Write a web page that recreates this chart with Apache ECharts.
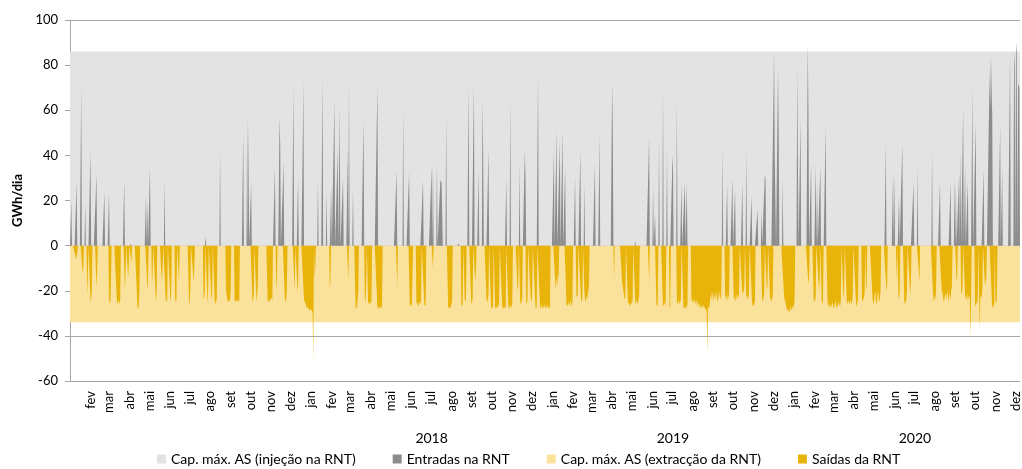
<!DOCTYPE html>
<html>
<head>
<meta charset="utf-8">
<script src="https://cdn.jsdelivr.net/npm/echarts@6/dist/echarts.min.js"></script>
<style>
  html, body { margin: 0; padding: 0; background: #fff; }
  #chart { width: 1022px; height: 469px; }
</style>
</head>
<body>
<div id="chart"></div>
<script>
const meses = ['jan', 'fev', 'mar', 'abr', 'mai', 'jun', 'jul', 'ago', 'set', 'out', 'nov', 'dez']
const anos = ['2018', '2019', '2020']
const inicio = '2017-01-01'
const numDias = 1438 // até 2020-12-08

const capInjecao = 86
const capExtraccao = -34

// [dia, GWh/dia]  (dia 0 = 2017-01-01)
const entradas = [
  [2, 20], [10, 28], [17, 71], [23, 19], [31, 42], [39, 23], [40, 32], [52, 24], [59, 24], [82, 29],
  [92, 1], [115, 23], [117, 20], [121, 35], [143, 29], [205, 4], [227, 42],
  [262, 50], [268, 58], [270, 55], [274, 28], [310, 34], [317, 57], [318, 44], [323, 37], [338, 71],
  [345, 30], [352, 44], [353, 73], [375, 30], [382, 74], [388, 24], [395, 26], [400, 64], [405, 43],
  [408, 62], [413, 30], [420, 43], [422, 73], [428, 26], [444, 56], [465, 71],
  [494, 33], [504, 62], [513, 33], [534, 29], [547, 35], [549, 37], [555, 37], [560, 28], [561, 29],
  [562, 28], [563, 28], [569, 59], [588, 1], [603, 71], [611, 71], [618, 34], [624, 65], [625, 40],
  [633, 43], [660, 30], [666, 65], [680, 36], [688, 42], [689, 30], [708, 76],
  [732, 42], [736, 51], [741, 46], [745, 51], [749, 35], [764, 31], [772, 42], [778, 28], [794, 36],
  [801, 49], [820, 72], [821, 52], [855, 2], [876, 48], [882, 27], [885, 14], [891, 46], [897, 69],
  [903, 43], [911, 35], [912, 40], [918, 64], [925, 28], [930, 28], [933, 28],
  [987, 43], [994, 28], [1002, 30], [1006, 25], [1017, 28], [1023, 42], [1031, 22], [1040, 16],
  [1046, 16], [1051, 31], [1052, 30], [1065, 86], [1066, 40], [1067, 40], [1071, 79], [1072, 50],
  [1078, 30], [1100, 79], [1101, 40], [1105, 56], [1116, 90], [1117, 60], [1121, 36], [1128, 36],
  [1130, 28], [1135, 35], [1143, 53],
  [1234, 45], [1245, 32], [1247, 32], [1254, 22], [1259, 45], [1276, 28], [1282, 35], [1304, 42],
  [1316, 28], [1332, 28], [1338, 31], [1340, 28], [1345, 32], [1347, 42], [1351, 61], [1354, 36],
  [1358, 29], [1365, 70], [1370, 54], [1382, 34], [1391, 77], [1392, 60], [1393, 85], [1394, 70],
  [1395, 58], [1407, 53], [1410, 34], [1422, 85], [1428, 86], [1429, 80], [1431, 90], [1432, 86],
  [1434, 70], [1435, 72], [1436, 70], [1437, 70]
]

// [primeiro dia, valores diários seguidos]
const saidas = [
  [8, [-4, -6, -5, -3]], [19, [-12, -10]], [26, [-22, -14]], [31, [-25, -24, -20]], [40, [-19, -12]],
  [59, [-26, -24, -26, -15]], [71, [-25, -26, -24, -25, -26, -24]], [83, [-20, -12]], [88, [-14, -8]],
  [93, [-8]], [102, [-27, -28, -27, -20]], [117, [-20, -15]], [124, [-17, -12]], [130, [-25, -22]],
  [139, [-16, -10]], [145, [-25, -24, -25]], [152, [-25, -22]], [159, [-25, -24, -25]], [165, [-16]],
  [180, [-26, -25, -20]], [187, [-16, -10]], [202, [-24, -23, -20]], [208, [-26, -20]], [214, [-24, -22]],
  [219, [-25, -26, -24, -25]],
  [236, [-20, -22, -24, -25, -25, -24, -25, -20]], [249, [-25, -24, -25, -25, -24, -25, -24, -25]],
  [276, [-25, -24, -22]], [282, [-25, -22, -18]], [299, [-25, -25, -24, -25, -24, -24, -23, -25]],
  [312, [-20, -15]], [325, [-24, -25, -24, -20]], [340, [-20]], [344, [-20, -18]],
  [354, [-24, -25, -25, -26, -28, -28, -27, -28, -28, -29, -28, -28, -29, -30, -51]], [370, [-14, -10]],
  [393, [-20, -15]], [421, [-16]], [432, [-28, -27, -28, -28, -20]], [446, [-24, -25, -18]],
  [451, [-26, -25, -26, -25, -26, -24]], [465, [-28, -28, -27, -28, -28, -27, -28, -26]],
  [495, [-19]], [514, [-27, -27, -26, -27, -27]], [524, [-26, -25, -26, -27, -26, -25, -26, -24]],
  [536, [-26, -27, -26]], [549, [-10]], [572, [-27, -28, -27, -28, -27, -27, -25]], [592, [-26, -27, -26]],
  [597, [-24, -25, -23]], [607, [-26, -25, -24]], [613, [-16, -12]], [630, [-24, -25, -24, -22]],
  [637, [-28, -27, -28, -26]], [643, [-27, -28, -27, -28, -27, -26, -27]], [654, [-28, -27, -28, -28, -27, -28]],
  [663, [-27, -28, -27, -26, -28, -27, -26]], [677, [-20, -18]], [681, [-25, -26, -25, -24]],
  [690, [-25, -26, -24]], [697, [-24, -25, -22]], [704, [-27, -28, -27]],
  [711, [-27, -28, -27, -26, -28, -27, -28, -26, -27, -28, -27, -26, -28, -27, -28, -27]],
  [734, [-16, -20, -14, -18, -12, -15]], [751, [-26, -27, -26, -25, -27, -26, -24, -26, -27, -25]],
  [766, [-22, -23, -22]], [773, [-24, -25, -23]], [778, [-20, -24, -25, -22, -24, -23, -20, -18]],
  [823, [-15]], [835, [-16, -18, -20, -22, -24, -23]], [844, [-26, -25, -26, -27, -26, -25, -26, -24]],
  [855, [-25, -26, -24, -25, -26, -24, -22]], [876, [-16]], [887, [-26, -27, -26]],
  [897, [-26, -27, -26, -25, -27]], [907, [-28, -27]], [918, [-25, -26, -25, -24, -26, -25, -24]],
  [928, [-28, -27, -28, -27, -28, -27, -26]],
  [940, [-24, -25, -24, -26, -23, -25, -26, -24, -25, -27, -26, -25, -27, -28, -26, -27, -28, -27, -26, -28,
    -27, -28, -29, -28, -48, -28, -27, -28]],
  [968, [-25, -22, -24, -20, -22, -25, -21, -23, -24, -20, -22, -24, -25, -22, -20, -23, -24, -22]],
  [991, [-24, -22, -23, -25, -21, -24, -20]], [1004, [-23, -24, -22, -25, -23, -21, -24, -22, -23]],
  [1017, [-22, -20, -21, -18]], [1023, [-24, -22, -23, -24, -21]], [1032, [-27, -26, -27, -25, -26]],
  [1047, [-24, -25, -23, -22]], [1054, [-20, -18]], [1059, [-24, -23, -25, -24, -22]],
  [1080, [-22, -24, -25, -26, -28, -29, -28, -29, -30, -28, -27, -29, -28, -27, -28, -26, -25]],
  [1117, [-17, -14]], [1125, [-25, -24, -25, -22]], [1133, [-20, -15]], [1137, [-25, -26, -24]],
  [1146, [-26, -27, -25, -27, -28, -26, -27, -25, -26, -28, -27, -26, -24, -27, -28, -26, -27, -25, -26, -27, -24]],
  [1170, [-24, -20]], [1175, [-25, -26, -24, -25, -26, -25, -24, -26, -25, -22]],
  [1189, [-26, -27, -25, -24]], [1198, [-24, -25, -23, -24, -20]],
  [1204, [-20, -18]], [1214, [-24, -25, -26, -22, -20, -25, -26, -24, -20, -22, -25, -24, -20]],
  [1235, [-20, -18]], [1251, [-16]], [1253, [-22, -24, -20]], [1262, [-25, -26, -25, -24, -20]],
  [1271, [-22, -16]], [1285, [-16]], [1306, [-24, -25, -22, -24, -20]],
  [1319, [-22, -20, -24, -25, -23, -21, -24, -22, -20, -23, -25, -21, -22, -24, -20, -18]],
  [1341, [-16, -14]], [1348, [-20, -22, -18]], [1354, [-22, -24, -22, -25, -21, -24, -22, -23, -41, -24]],
  [1369, [-26, -27, -25, -26, -24]], [1376, [-37, -24, -22, -23, -20]], [1384, [-18, -16, -14]],
  [1395, [-28, -27, -26, -27]], [1400, [-26, -25, -24]]
]

const dias = []
const t0 = new Date(inicio + 'T00:00:00Z').getTime()
for (let i = 0; i < numDias; i++) {
  dias.push(new Date(t0 + i * 86400000).toISOString().slice(0, 10))
}

const serieEntradas = dias.map(() => 0)
entradas.forEach(([i, v]) => { serieEntradas[i] = v })
const serieSaidas = dias.map(() => 0)
saidas.forEach(([i, vals]) => vals.forEach((v, k) => { serieSaidas[i + k] = v }))

const fonte = 'Lato, sans-serif'
const cinzaEixo = '#a6a6a6'

const chart = echarts.init(document.getElementById('chart'))

const areaSerie = (name, data, color) => ({
  name,
  type: 'line',
  data,
  symbol: 'none',
  silent: true,
  lineStyle: { width: 0 },
  itemStyle: { color },
  areaStyle: { color, opacity: 1 }
})

chart.setOption({
  animation: false,
  textStyle: { fontFamily: fonte },
  grid: { left: 70, right: 2, top: 20, bottom: 88 },
  legend: {
    top: 452,
    left: 157,
    padding: 0,
    icon: 'rect',
    itemWidth: 9,
    itemHeight: 9,
    itemGap: 37,
    textStyle: { fontSize: 14, color: '#000', fontFamily: fonte },
    data: ['Cap. máx. AS (injeção na RNT)', 'Entradas na RNT', 'Cap. máx. AS (extracção da RNT)', 'Saídas da RNT']
  },
  xAxis: [
    {
      type: 'category',
      data: dias,
      boundaryGap: false,
      axisLine: { onZero: false, lineStyle: { color: cinzaEixo } },
      axisTick: { show: false },
      axisLabel: {
        interval: (i, v) => i > 0 && v.endsWith('-01'),
        formatter: (v) => meses[+v.slice(5, 7) - 1],
        rotate: 90,
        margin: 10,
        fontSize: 13,
        color: '#000'
      }
    },
    {
      type: 'category',
      data: dias,
      boundaryGap: false,
      position: 'bottom',
      offset: 42,
      axisLine: { show: false },
      axisTick: { show: false },
      axisLabel: {
        interval: (i, v) => v.slice(5) === '07-02' && anos.includes(v.slice(0, 4)),
        formatter: (v) => v.slice(0, 4),
        fontSize: 14,
        color: '#000'
      }
    }
  ],
  yAxis: {
    type: 'value',
    min: -60,
    max: 100,
    interval: 20,
    name: 'GWh/dia',
    nameLocation: 'middle',
    nameGap: 46,
    nameTextStyle: { fontWeight: 'bold', fontSize: 13, color: '#000' },
    axisLine: { show: true, lineStyle: { color: cinzaEixo } },
    axisTick: { show: true, length: 5, lineStyle: { color: cinzaEixo } },
    splitLine: { lineStyle: { color: cinzaEixo } },
    axisLabel: { fontSize: 13, color: '#000', margin: 12 }
  },
  series: [
    areaSerie('Cap. máx. AS (injeção na RNT)', [[0, capInjecao], [numDias - 1, capInjecao]], '#e3e3e3'),
    areaSerie('Cap. máx. AS (extracção da RNT)', [[0, capExtraccao], [numDias - 1, capExtraccao]], '#fae29c'),
    areaSerie('Entradas na RNT', serieEntradas, '#8c8c8c'),
    areaSerie('Saídas da RNT', serieSaidas, '#e8b30a')
  ]
})
</script>
</body>
</html>
